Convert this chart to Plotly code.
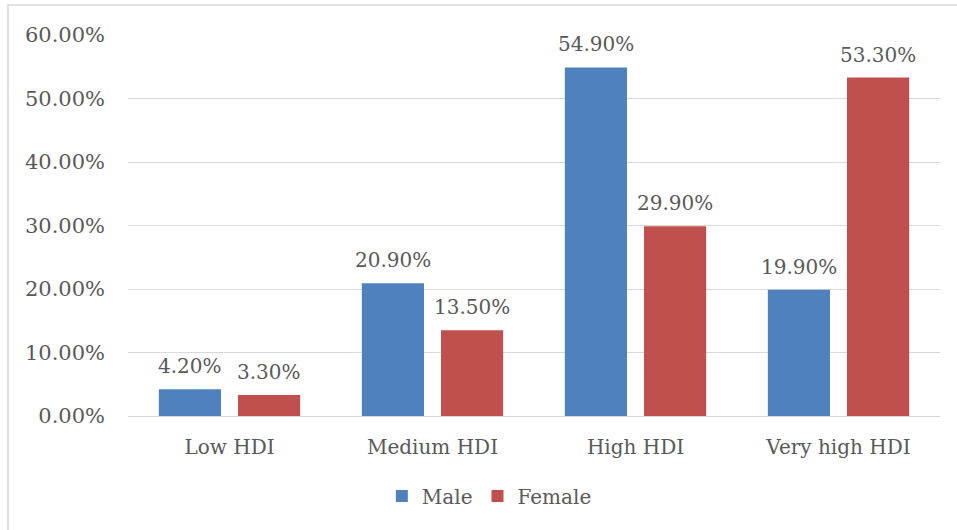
import plotly.graph_objects as go

categories = ["Low HDI", "Medium HDI", "High HDI", "Very high HDI"]
male = [4.2, 20.9, 54.9, 19.9]
female = [3.3, 13.5, 29.9, 53.3]
y_ticks = [0, 10, 20, 30, 40, 50, 60]
y_tick_labels = [f"{v:.2f}%" for v in y_ticks]

FONT = "DejaVu Serif"
TEXT_COLOR = "#595959"
SIZE = 20

W, H = 957, 530
L, R, T, B = 128, 17, 35, 114
pw, ph = W - L - R, H - T - B

fig = go.Figure()
fig.add_trace(go.Bar(name="Male", x=categories, y=male, marker_color="#4F81BD",
                     marker_line_width=0))
fig.add_trace(go.Bar(name="Female", x=categories, y=female, marker_color="#C0504D",
                     marker_line_width=0))

# value labels above each bar
slot_px = pw / len(categories) * (1 - 0.22) / 2
annotations = []
for series, shift in ((male, -slot_px / 2), (female, slot_px / 2)):
    for cat, v in zip(categories, series):
        annotations.append(dict(
            x=cat, y=v, xref="x", yref="y", text=f"{v:.2f}%", showarrow=False,
            xanchor="center", yanchor="bottom", xshift=shift, yshift=9,
            font=dict(family=FONT, size=SIZE, color=TEXT_COLOR),
        ))

fig.update_layout(
    width=W, height=H,
    margin=dict(l=L, r=R, t=T, b=B),
    paper_bgcolor="white", plot_bgcolor="white",
    barmode="group", bargap=0.22, bargroupgap=0.215,
    font=dict(family=FONT, size=SIZE, color=TEXT_COLOR),
    showlegend=True,
    legend=dict(orientation="h", x=0.445, xanchor="center", y=-0.21, yanchor="middle",
                font=dict(family=FONT, size=SIZE, color=TEXT_COLOR), itemwidth=30),
    xaxis=dict(showgrid=False, showline=True, linecolor="#D9D9D9", linewidth=1,
               ticks="", ticklabelstandoff=13,
               tickfont=dict(family=FONT, size=SIZE, color=TEXT_COLOR)),
    yaxis=dict(range=[0, 60], tickvals=y_ticks, ticktext=y_tick_labels,
               showgrid=True, gridcolor="#D9D9D9", gridwidth=1, zeroline=False,
               showline=False, ticks="", ticklabelstandoff=22,
               tickfont=dict(family=FONT, size=21, color=TEXT_COLOR)),
    annotations=annotations,
    shapes=[dict(type="rect", xref="paper", yref="paper",
                 x0=(8 - L) / pw, x1=(W + 5 - L) / pw,
                 y0=-(H + 5 - (T + ph)) / ph, y1=(T + ph - 5) / ph,
                 line=dict(color="#D9D9D9", width=1.5), fillcolor="rgba(0,0,0,0)",
                 layer="below")],
)

fig.write_html("out.html")
